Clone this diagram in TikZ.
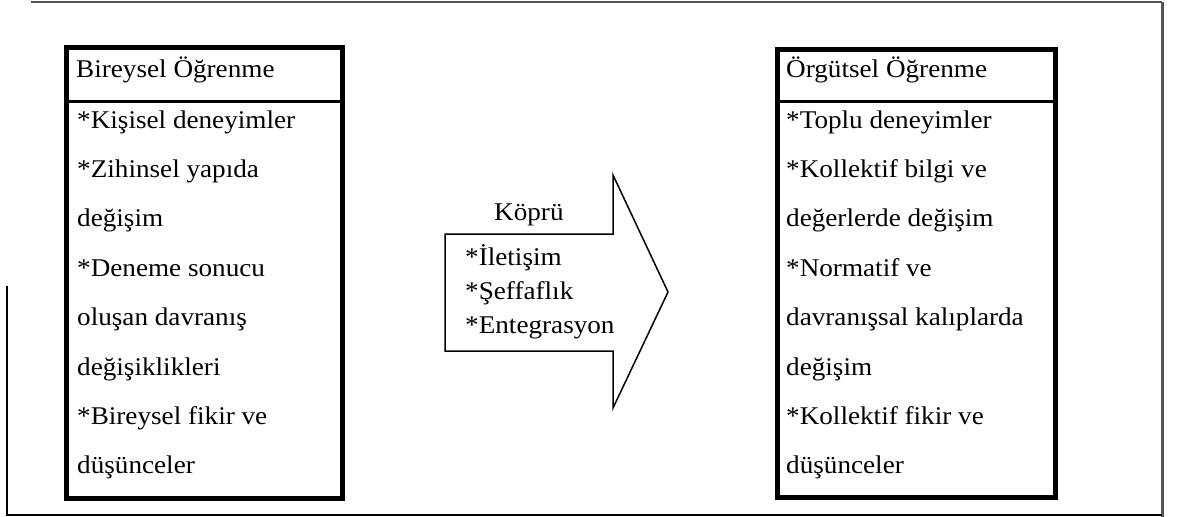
\documentclass[tikz,border=0pt]{standalone}
\usepackage{fontspec}
\setmainfont{Liberation Serif}
\definecolor{framegray}{HTML}{555555}
\begin{document}
\begin{tikzpicture}[x=1pt,y=-1pt,
  frameline/.style={line width=2pt,draw=black},
  panel/.style={draw=black,line width=5pt,inner sep=0pt,outer sep=0pt},
  headrule/.style={line width=3pt},
  bridge/.style={draw=black,line width=1.5pt,line join=miter},
  txt/.style={font=\fontsize{25.5}{30}\selectfont,inner sep=0pt,anchor=base west,xscale=1.065}]
\useasboundingbox (0,0) rectangle (1179,517);

% outer frame
\draw[frameline,draw=framegray] (31,2) -- (1162,2);
\draw[frameline,draw=framegray,line width=3pt] (1162,2) -- (1162,517);
\draw[frameline] (7,286) -- (7,515) -- (1162,515);

% individual learning panel
\node[panel,minimum width=276pt,minimum height=450.5pt] (bir) at (204.5,272.75) {};
\coordinate (hl) at (0,101.5);
\draw[headrule] (bir.west |- hl) -- (bir.east |- hl);
\node[txt] (birhead) at (76,77) {Bireysel Öğrenme};
\foreach \t [count=\i] in {*Kişisel deneyimler,*Zihinsel yapıda,değişim,*Deneme sonucu,oluşan davranış,değişiklikleri,*Bireysel fikir ve,düşünceler}
  \node[txt] (b\i) at (77,{128+49.4*(\i-1)}) {\t};

% organisational learning panel
\node[panel,minimum width=278.5pt,minimum height=448pt] (org) at (916.25,273.5) {};
\draw[headrule] (org.west |- hl) -- (org.east |- hl);
\node[txt] (orghead) at (786,77) {Örgütsel Öğrenme};
\foreach \t [count=\i] in {*Toplu deneyimler,*Kollektif bilgi ve,değerlerde değişim,*Normatif ve,davranışsal kalıplarda,değişim,*Kollektif fikir ve,düşünceler}
  \node[txt] (o\i) at (786,{128+49.4*(\i-1)}) {\t};

% bridge arrow
\coordinate (a1) at (445,234);
\coordinate (a2) at (613,234);
\coordinate (a3) at (613,175);
\coordinate (tip) at (668,292);
\coordinate (a5) at (613,408);
\coordinate (a6) at (613,351);
\coordinate (a7) at (445,351);
\draw[bridge] (a1) -- (a2) -- (a3) -- (tip) -- (a5) -- (a6) -- (a7) -- cycle;
\node[txt] (kopru) at (494,220) {Köprü};
\node[txt] (k1) at (465,265) {*İletişim};
\node[txt] (k2) at (465,299) {*Şeffaflık};
\node[txt] (k3) at (465,333) {*Entegrasyon};
\end{tikzpicture}
\end{document}
